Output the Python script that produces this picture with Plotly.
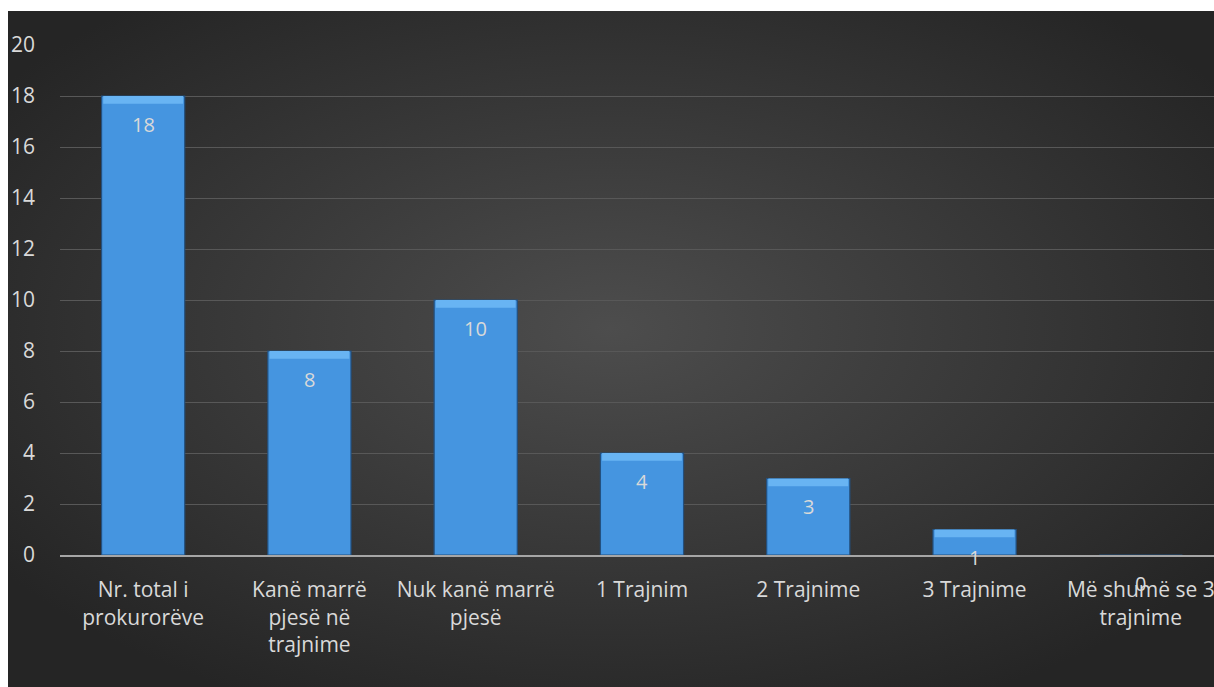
import base64
import plotly.graph_objects as go

categories = [
    "Nr. total i<br>prokurorëve",
    "Kanë marrë<br>pjesë në<br>trajnime",
    "Nuk kanë marrë<br>pjesë",
    "1 Trajnim",
    "2 Trajnime",
    "3 Trajnime",
    "Më shumë se 3<br>trajnime",
]
values = [18, 8, 10, 4, 3, 1, 0]
y_ticks = [0, 2, 4, 6, 8, 10, 12, 14, 16, 18, 20]

W, H = 1214, 687
ML, MR, MT, MB = 60, 0, 45, 132
pw, ph = W - ML - MR, H - MT - MB

svg = (
    '<svg xmlns="http://www.w3.org/2000/svg" width="400" height="220" preserveAspectRatio="none" viewBox="0 0 400 220">'
    '<defs><radialGradient id="g" cx="50%" cy="47%" r="62%">'
    '<stop offset="0%" stop-color="#4d4d4d"/>'
    '<stop offset="100%" stop-color="#252525"/>'
    '</radialGradient></defs>'
    '<rect width="400" height="220" fill="url(#g)"/></svg>'
)
bg_uri = "data:image/svg+xml;base64," + base64.b64encode(svg.encode()).decode()

dark_left, dark_top = 8, 11
x0 = (dark_left - ML) / pw
y_top = (H - MB - dark_top) / ph
sx = (W - dark_left) / pw
sy = (H - dark_top) / ph

fig = go.Figure()
fig.add_trace(go.Bar(
    x=categories,
    y=values,
    width=0.5,
    marker=dict(color="#4595e0", line=dict(color="#23507f", width=1.2)),
    hoverinfo="skip",
))

# light bevel band along the top of each bar
band = 0.3
fig.add_trace(go.Bar(
    x=categories,
    y=[band if v > 0 else 0 for v in values],
    base=[v - band if v > 0 else 0 for v in values],
    width=0.48,
    marker=dict(color="#68b4f3", line=dict(width=0)),
    hoverinfo="skip",
))

for c, v in zip(categories, values):
    fig.add_annotation(
        x=c, y=v, text=str(v), showarrow=False, yshift=-28,
        font=dict(family="Open Sans", size=20, color="#d9d9d9"),
    )

fig.add_layout_image(dict(
    source=bg_uri, xref="paper", yref="paper",
    x=x0, y=y_top, sizex=sx, sizey=sy,
    xanchor="left", yanchor="top", sizing="stretch", layer="below",
))

fig.update_layout(
    width=W, height=H,
    margin=dict(l=ML, r=MR, t=MT, b=MB),
    paper_bgcolor="white",
    plot_bgcolor="rgba(0,0,0,0)",
    showlegend=False,
    font=dict(family="Open Sans", size=21, color="#d9d9d9"),
    barmode="overlay",
    bargap=0.5,
)
fig.update_xaxes(
    range=[-0.5, 6.44],
    showgrid=False, showline=True, linecolor="#a6a6a6", linewidth=2,
    ticks="", tickfont=dict(size=21, color="#d9d9d9"), ticklabelstandoff=15,
    tickangle=0,
)
fig.update_yaxes(
    range=[0, 20], tickvals=y_ticks, showgrid=True, gridcolor="#585858", gridwidth=1,
    zeroline=False, showline=False, ticks="", ticklabelstandoff=24,
    tickfont=dict(size=21, color="#d9d9d9"),
)

fig.write_html(
    "out.html",
    config={"displayModeBar": False},
    post_script="document.body.style.margin='0';",
)
